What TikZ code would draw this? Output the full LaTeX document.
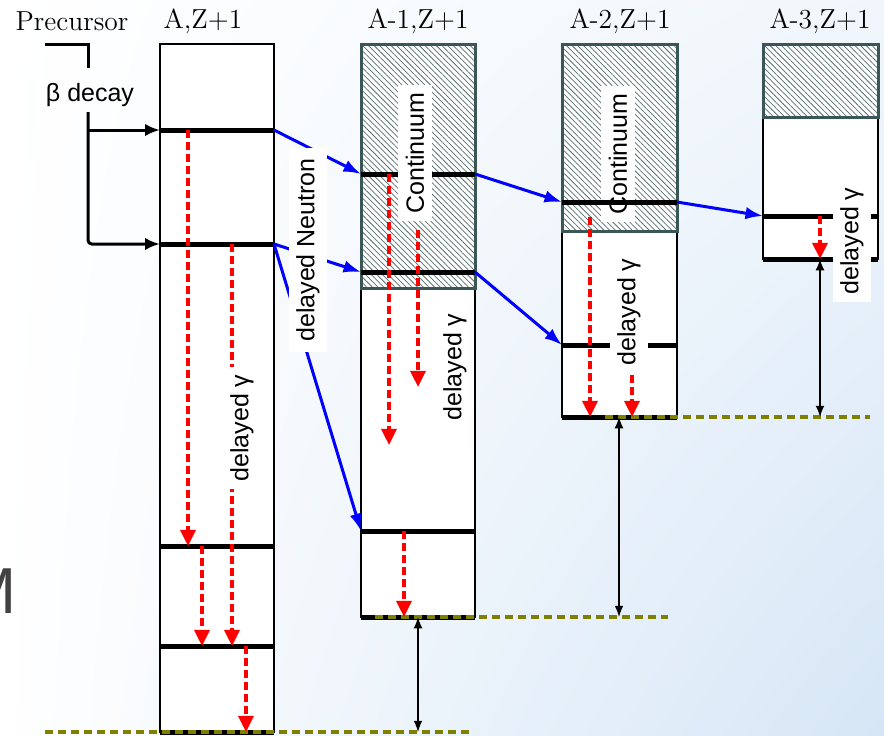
\documentclass[tikz,border=0pt]{standalone}
\usepackage{fontspec}
\setsansfont{Liberation Sans}
\usepackage{tikz}
\usetikzlibrary{arrows.meta,calc,patterns.meta,shadings}
\definecolor{contgrey}{RGB}{58,86,86}
\definecolor{groundolive}{RGB}{128,128,0}
\definecolor{slideblue}{RGB}{214,230,246}
\definecolor{slidegrey}{RGB}{66,66,66}

\begin{document}
\begin{tikzpicture}[x=0.4pt, y=-0.4pt,
  column/.style={draw=black, line width=0.6pt, fill=white},
  continuum/.style={draw=contgrey, line width=1.2pt, preaction={fill=white},
    pattern={Lines[angle=-45, distance=1.6pt, line width=0.3pt]},
    pattern color=contgrey!85},
  level/.style={line width=2pt},
  feed/.style={line width=1.2pt, -{Latex[length=6pt, width=5pt]}},
  neutron/.style={blue, line width=1.2pt, -{Latex[length=7pt, width=5pt]}},
  gamma/.style={red, line width=1.4pt, dash pattern=on 3pt off 1.8pt,
    -{Triangle[length=6.5pt, width=6pt]}},
  ground/.style={groundolive, line width=1.5pt, dash pattern=on 3.2pt off 2pt},
  gap/.style={line width=0.5pt,
    {Latex[length=4.5pt, width=3.5pt]}-{Latex[length=4.5pt, width=3.5pt]}},
  tag/.style={fill=white, font=\sffamily, rotate=90, inner sep=3pt},
  head/.style={font=\rmfamily\fontsize{11}{13}\selectfont}]
\useasboundingbox (0,0) rectangle (884,735);

% slide background
\shade[upper left=white, upper right=slideblue!35!white,
  lower left=white, lower right=slideblue] (0,0) rectangle (884,735);
\node[anchor=east, inner sep=0pt, text=slidegrey,
  font=\sffamily\fontsize{26}{30}\selectfont] (slidem) at (17,591) {M};

% headings
\node[head] (prec) at (72,21) {Precursor};
\node[head] (hz0) at (203,21) {A,Z+1};
\node[head] (hz1) at (418,21) {A-1,Z+1};
\node[head] (hz2) at (620,21) {A-2,Z+1};
\node[head] (hz3) at (820,21) {A-3,Z+1};

% level schemes
\draw[column] (160,44) rectangle (274,732);
\draw[column] (361,44) rectangle (475,617);
\draw[column] (562,44) rectangle (677,417);
\draw[column] (763,44) rectangle (878,259);
\draw[continuum] (361,44) rectangle (475,288);
\draw[continuum] (562,44) rectangle (677,231);
\draw[continuum] (763,44) rectangle (878,117);

% level ends
\coordinate (a0l) at (160,130); \coordinate (a0r) at (274,130);
\coordinate (b0l) at (160,244); \coordinate (b0r) at (274,244);
\coordinate (c0l) at (160,546); \coordinate (c0r) at (274,546);
\coordinate (d0l) at (160,646); \coordinate (d0r) at (274,646);
\coordinate (g0l) at (160,732); \coordinate (g0r) at (274,732);
\coordinate (a1l) at (361,174); \coordinate (a1r) at (475,174);
\coordinate (b1l) at (361,272); \coordinate (b1r) at (475,272);
\coordinate (c1l) at (361,531); \coordinate (c1r) at (475,531);
\coordinate (g1l) at (361,617); \coordinate (g1r) at (475,617);
\coordinate (a2l) at (562,202); \coordinate (a2r) at (677,202);
\coordinate (b2l) at (562,345); \coordinate (b2r) at (677,345);
\coordinate (g2l) at (562,417); \coordinate (g2r) at (677,417);
\coordinate (a3l) at (763,216); \coordinate (a3r) at (878,216);
\coordinate (g3l) at (763,259); \coordinate (g3r) at (878,259);

\draw[level] (a0l) -- (a0r);
\draw[level] (b0l) -- (b0r);
\draw[level] (c0l) -- (c0r);
\draw[level] (d0l) -- (d0r);
\draw[level] (g0l) -- (g0r);
\draw[level] (a1l) -- (a1r);
\draw[level] (b1l) -- (b1r);
\draw[level] (c1l) -- (c1r);
\draw[level] (g1l) -- (g1r);
\draw[level] (b2l) -- (b2r);
\draw[level] (g2l) -- (g2r);
\draw[level] (a3l) -- (a3r);
\draw[level] (g3l) -- (g3r);

% ground states
\coordinate (gnd0w) at (45,732);  \coordinate (gnd0e) at (473,732);
\coordinate (gnd1w) at (375,617); \coordinate (gnd1e) at (668,617);
\coordinate (gnd2w) at (605,417); \coordinate (gnd2e) at (870,417);
\draw[ground] (gnd0w) -- (gnd0e);
\draw[ground] (gnd1w) -- (gnd1e);
\draw[ground] (gnd2w) -- (gnd2e);

% beta feeding
\coordinate (bend) at (45,44);
\coordinate (stub) at (88,68);
\coordinate (stem) at (88,112);
\draw[line width=1.2pt] (bend) -| (stub);
\node[font=\sffamily] (beta) at (90,95) {β decay};
\draw[feed, rounded corners=1.5pt] (stem) |- (b0l);
\draw[feed] (stem |- a0l) -- (a0l);

% neutron emission
\draw[neutron] (a0r) -- (a1l);
\draw[neutron] (b0r) -- (b1l);
\draw[neutron] (b0r) -- (c1l);
\draw[neutron] (a1r) -- (a2l);
\draw[neutron] (b1r) -- (b2l);
\draw[neutron] (a2r) -- (a3l);

% gamma cascades
\coordinate (e1a) at (389,445);
\coordinate (s1b) at (418,230); \coordinate (e1b) at (418,387);
\coordinate (s2b) at (632,375);
\draw[gamma] ($(a0l)+(28,0)$) -- ($(c0l)+(28,0)$);
\draw[gamma] ($(b0l)+(72,0)$) -- ($(d0l)+(72,0)$);
\draw[gamma] ($(c0l)+(42,0)$) -- ($(d0l)+(42,0)$);
\draw[gamma] ($(d0l)+(86,0)$) -- ($(g0l)+(86,0)$);
\draw[gamma] ($(a1l)+(28,0)$) -- (e1a);
\draw[gamma] (s1b) -- (e1b);
\draw[gamma] ($(c1l)+(43,0)$) -- ($(g1l)+(43,0)$);
\draw[gamma] ($(a2l)+(28,15)$) -- ($(g2l)+(28,0)$);
\draw[gamma] (s2b) -- ($(g2l)+(70,0)$);
\draw[gamma] ($(a3l)+(57,0)$) -- ($(g3l)+(57,0)$);

% separation energies
\coordinate (m0) at ($(g1l)+(57,0)$);
\coordinate (m1) at ($(g2l)+(57,0)$);
\coordinate (m2) at ($(g3l)+(57,0)$);
\draw[gap] (m0) -- (m0 |- g0l);
\draw[gap] (m1) -- (m1 |- g1l);
\draw[gap] (m2) -- (m2 |- g2l);

% labels
\node[tag, inner xsep=4pt] (neutronlbl) at (308,250) {delayed Neutron};
\node[tag] (cont1) at (415,153) {Continuum};
\node[tag] (cont2) at (618,154) {Continuum};
\node[tag] (gam0) at (242,428) {delayed γ};
\node[tag] (gam1) at (455,367) {delayed γ};
\node[tag] (gam2) at (629,312) {delayed γ};
\node[tag] (gam3) at (852,241) {delayed γ};
\draw[level] (a2l) -- (a2r);
\end{tikzpicture}
\end{document}
